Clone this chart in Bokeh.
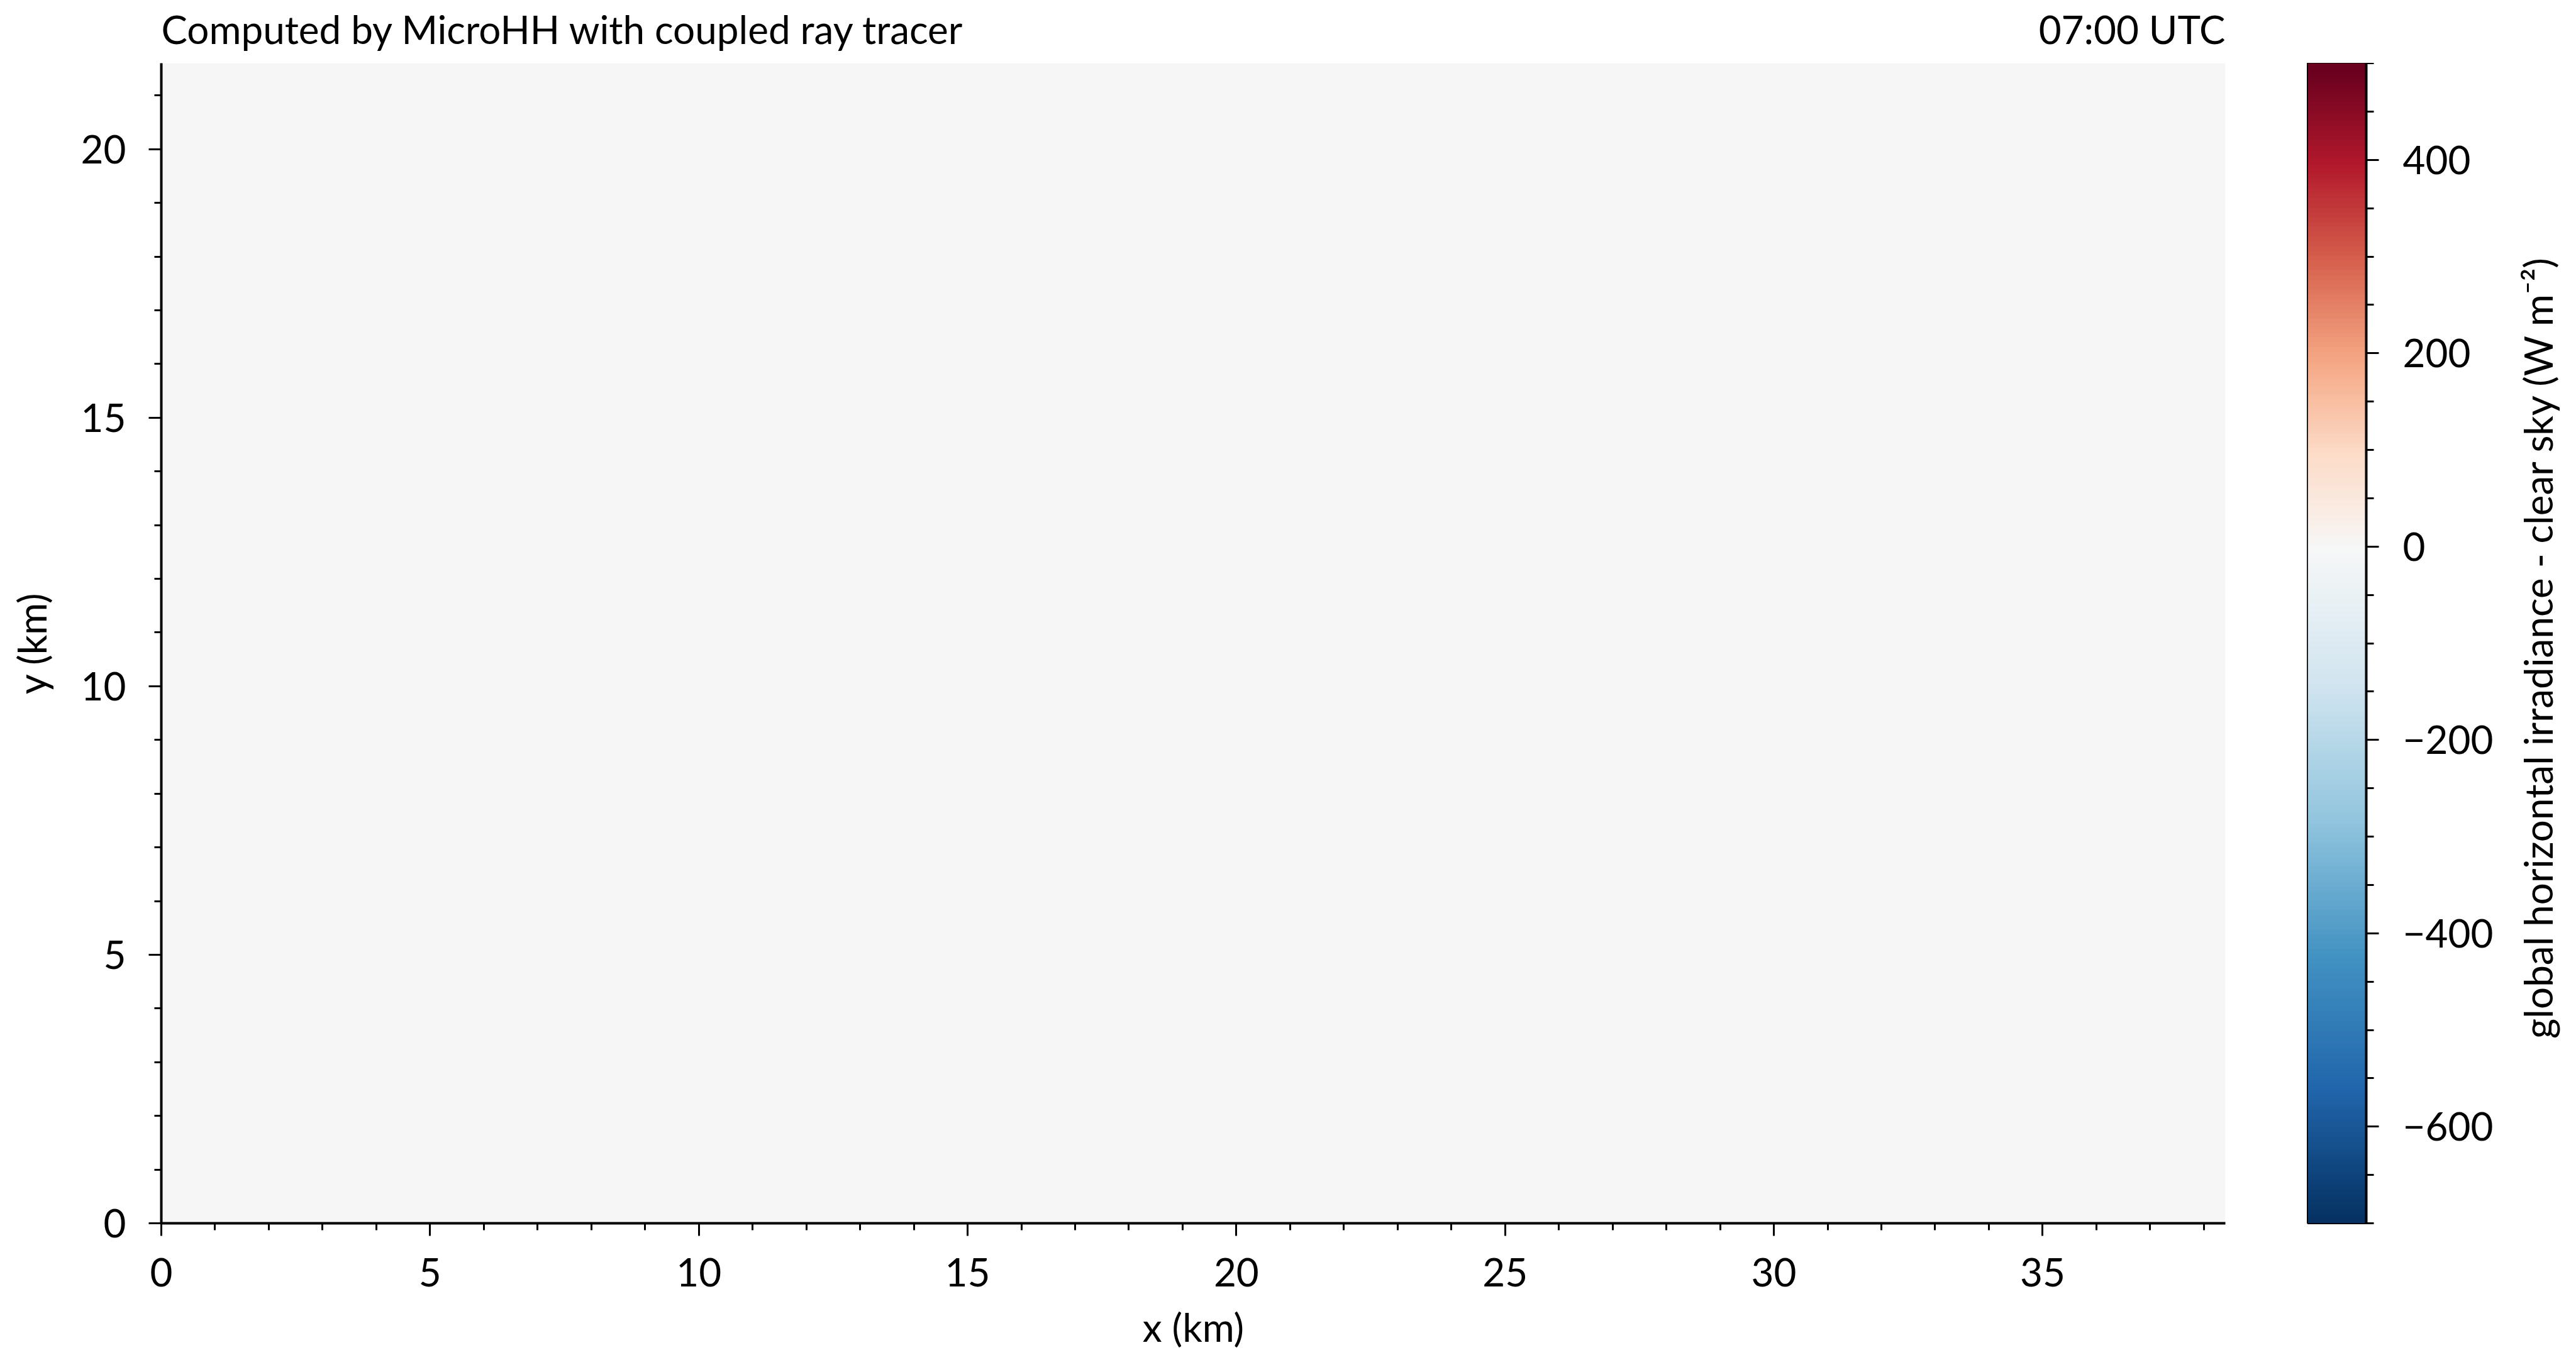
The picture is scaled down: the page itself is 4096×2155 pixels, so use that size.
import numpy as np
from math import pi
from bokeh.plotting import figure
from bokeh.layouts import row, column
from bokeh.models import (LinearColorMapper, SingleIntervalTicker,
                          CustomJSTickFormatter, Range1d)
from bokeh.core.properties import value
from bokeh.embed import file_html
from bokeh.resources import INLINE

# ---------------- data ----------------
x_extent_km = [0.0, 38.4]
y_extent_km = [0.0, 21.6]
# global horizontal irradiance minus clear sky (W m-2) at 07:00 UTC: cloud free, ~0 everywhere
ghi_minus_clear = [
    [0, 0, 0, 0, 0, 0, 0, 0, 0, 0, 0, 0],
    [0, 0, 0, 0, 0, 0, 0, 0, 0, 0, 0, 0],
    [0, 0, 0, 0, 0, 0, 0, 0, 0, 0, 0, 0],
    [0, 0, 0, 0, 0, 0, 0, 0, 0, 0, 0, 0],
    [0, 0, 0, 0, 0, 0, 0, 0, 0, 0, 0, 0],
    [0, 0, 0, 0, 0, 0, 0, 0, 0, 0, 0, 0],
    [0, 0, 0, 0, 0, 0, 0, 0, 0, 0, 0, 0],
]
cbar_low = -700
cbar_high = 500
title_left = "Computed by MicroHH with coupled ray tracer"
title_right = "07:00 UTC"
x_label = "x (km)"
y_label = "y (km)"
cbar_label = "global horizontal irradiance - clear sky (W m\u207b\u00b2)"

# ---------------- style ----------------
FONT = "Lato"
FS = "62px"

rdbu_r = ['#053061', '#2166ac', '#4393c3', '#92c5de', '#d1e5f0', '#f7f7f7',
          '#fddbc7', '#f4a582', '#d6604d', '#b2182b', '#67001f']


def hex2rgb(h):
    return np.array([int(h[i:i + 2], 16) for i in (1, 3, 5)], dtype=float)


anchors = np.array([hex2rgb(c) for c in rdbu_r])
N = 240
palette = []
for i in range(N):
    v = cbar_low + (i + 0.5) * (cbar_high - cbar_low) / N
    f = 0.5 * (v - cbar_low) / (0 - cbar_low) if v < 0 else 0.5 + 0.5 * v / cbar_high
    pos = f * (len(rdbu_r) - 1)
    k = min(int(pos), len(rdbu_r) - 2)
    t = pos - k
    rgb = anchors[k] * (1 - t) + anchors[k + 1] * t
    palette.append('#%02x%02x%02x' % tuple(int(round(c)) for c in rgb))

mapper = LinearColorMapper(palette=palette, low=cbar_low, high=cbar_high)

LEFT = 256
FRAME_W = 3282
FRAME_H = 1845
TOP_H = 100
BOTTOM = 2153 - TOP_H - FRAME_H
MAIN_RIGHT = 60
CB_LEFT = 71
CB_W = 93
CB_RIGHT = 228
LAB_W = 100
TOTAL_W = LEFT + FRAME_W + MAIN_RIGHT + CB_LEFT + CB_W + CB_RIGHT + LAB_W

km_px = FRAME_W / (x_extent_km[1] - x_extent_km[0])

# ---------------- header (title texts) ----------------
top_x0 = x_extent_km[0] - LEFT / km_px
top = figure(frame_width=TOTAL_W, frame_height=TOP_H,
             x_range=Range1d(top_x0, top_x0 + TOTAL_W / km_px),
             y_range=Range1d(0, TOP_H), x_axis_type=None, y_axis_type=None,
             output_backend="svg", toolbar_location=None, title=None,
             min_border_left=0, min_border_right=0, min_border_top=0,
             min_border_bottom=0)
top.grid.visible = False
top.outline_line_color = None
top.background_fill_color = "white"
top.border_fill_color = "white"
baseline_from_bottom = 55
top.text(x=[x_extent_km[0]], y=[baseline_from_bottom], text=[title_left],
         text_font=value(FONT), text_font_size=FS, text_align="left",
         text_baseline="alphabetic", text_color="black")
top.text(x=[x_extent_km[1]], y=[baseline_from_bottom], text=[title_right],
         text_font=value(FONT), text_font_size=FS, text_align="right",
         text_baseline="alphabetic", text_color="black")

# ---------------- main map ----------------
p = figure(frame_width=FRAME_W, frame_height=FRAME_H,
           x_range=Range1d(*x_extent_km), y_range=Range1d(*y_extent_km),
           output_backend="svg", toolbar_location=None, title=None,
           min_border_left=LEFT, min_border_right=MAIN_RIGHT,
           min_border_top=0, min_border_bottom=BOTTOM)
p.image(image=[np.array(ghi_minus_clear, dtype=float)], x=x_extent_km[0], y=y_extent_km[0],
        dw=x_extent_km[1] - x_extent_km[0], dh=y_extent_km[1] - y_extent_km[0],
        color_mapper=mapper)

p.grid.visible = False
p.outline_line_color = None
p.background_fill_color = "white"
p.border_fill_color = "white"

for ax in (p.xaxis[0], p.yaxis[0]):
    ax.ticker = SingleIntervalTicker(interval=5, num_minor_ticks=5)
    ax.axis_line_width = 4
    ax.axis_line_color = "black"
    ax.major_tick_line_width = 3
    ax.minor_tick_line_width = 3
    ax.major_tick_out = 20
    ax.major_tick_in = 0
    ax.minor_tick_out = 11
    ax.minor_tick_in = 0
    ax.major_label_text_font = FONT
    ax.major_label_text_font_size = FS
    ax.major_label_text_color = "black"
    ax.axis_label_text_font = FONT
    ax.axis_label_text_font_size = FS
    ax.axis_label_text_font_style = "normal"
    ax.axis_label_text_color = "black"

p.xaxis.axis_label = x_label
p.yaxis.axis_label = y_label
p.xaxis.major_label_standoff = 35
p.yaxis.major_label_standoff = 36
p.xaxis.axis_label_standoff = 24
p.yaxis.axis_label_standoff = 39

# ---------------- colour bar ----------------
cb = figure(frame_width=CB_W, frame_height=FRAME_H,
            x_range=Range1d(0, 1), y_range=Range1d(cbar_low, cbar_high),
            y_axis_location="right", output_backend="svg", toolbar_location=None,
            title=None, min_border_left=CB_LEFT, min_border_right=CB_RIGHT,
            min_border_top=0, min_border_bottom=BOTTOM)
levels = np.linspace(cbar_low, cbar_high, N + 1).reshape(-1, 1)
cb.image(image=[levels], x=0, y=cbar_low, dw=1, dh=cbar_high - cbar_low, color_mapper=mapper)
cb.xaxis.visible = False
cb.grid.visible = False
cb.outline_line_color = "black"
cb.outline_line_width = 3
cb.border_fill_color = "white"
cax = cb.yaxis[0]
cax.ticker = SingleIntervalTicker(interval=200, num_minor_ticks=4)
cax.formatter = CustomJSTickFormatter(
    code="return tick < 0 ? '\u2212' + Math.abs(tick) : tick.toString();")
cax.axis_line_width = 4
cax.major_tick_line_width = 3
cax.minor_tick_line_width = 3
cax.major_tick_out = 20
cax.major_tick_in = 0
cax.minor_tick_out = 12
cax.minor_tick_in = 0
cax.major_label_text_font = FONT
cax.major_label_text_font_size = FS
cax.major_label_text_color = "black"
cax.major_label_standoff = 38

# ---------------- colour bar label ----------------
lab = figure(frame_width=LAB_W, frame_height=FRAME_H,
             x_range=Range1d(0, LAB_W), y_range=Range1d(cbar_low, cbar_high),
             x_axis_type=None, y_axis_type=None, output_backend="svg",
             toolbar_location=None, title=None, min_border_left=0,
             min_border_right=0, min_border_top=0, min_border_bottom=BOTTOM)
lab.grid.visible = False
lab.outline_line_color = None
lab.border_fill_color = "white"
lab.background_fill_color = "white"
lab.text(x=[44], y=[(cbar_low + cbar_high) / 2 - 4], text=[cbar_label], angle=pi / 2,
         text_font=value(FONT), text_font_size=FS, text_align="center",
         text_baseline="alphabetic", text_color="black")

layout = column(top, row(p, cb, lab))
open("out.html", "w").write(file_html(layout, INLINE))
